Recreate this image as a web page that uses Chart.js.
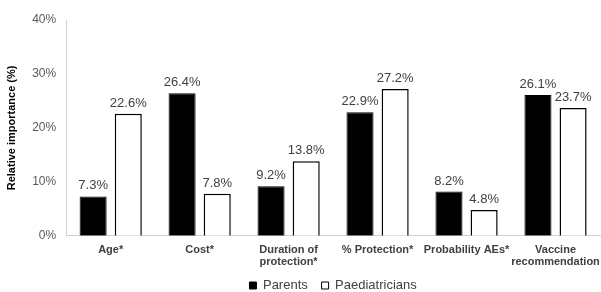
<!DOCTYPE html>
<html><head><meta charset="utf-8">
<script src="https://cdn.jsdelivr.net/npm/chart.js@4"></script>
<style>html,body{margin:0;padding:0;background:#fff}#wrap{width:601px;height:292px}</style>
</head><body><div id="wrap"><canvas id="c" width="601" height="292"></canvas></div>
<script>
const categories = ["Age*", "Cost*", ["Duration of", "protection*"], "% Protection*", "Probability AEs*", ["Vaccine", "recommendation"]];
const parents = [7.3, 26.4, 9.2, 22.9, 8.2, 26.1];
const paediatricians = [22.6, 7.8, 13.8, 27.2, 4.8, 23.7];
const yTicks = [0, 10, 20, 30, 40];

const labelPlugin = {
  id: 'valueLabels',
  afterDatasetsDraw(chart) {
    const ctx = chart.ctx;
    ctx.save();
    ctx.font = '13px "Liberation Sans", Arial, sans-serif';
    ctx.fillStyle = '#404040';
    ctx.textAlign = 'center';
    ctx.textBaseline = 'bottom';
    chart.data.datasets.forEach((ds, i) => {
      chart.getDatasetMeta(i).data.forEach((bar, j) => {
        ctx.fillText(ds.data[j].toFixed(1) + '%', bar.x, bar.y - 4);
      });
    });
    ctx.restore();
  }
};

new Chart(document.getElementById('c'), {
  type: 'bar',
  data: {
    labels: categories,
    datasets: [
      { label: 'Parents', data: parents, backgroundColor: '#000', borderColor: '#000', borderWidth: 1 },
      { label: 'Paediatricians', data: paediatricians, backgroundColor: '#fff', borderColor: '#000', borderWidth: 1.5 }
    ]
  },
  options: {
    responsive: false,
    animation: false,
    devicePixelRatio: 1,
    layout: { padding: { top: 20, right: 1, left: 1, bottom: -10 } },
    datasets: { bar: { categoryPercentage: 0.79, barPercentage: 0.77 } },
    plugins: {
      legend: {
        position: 'bottom',
        fullSize: false,
        labels: {
          boxWidth: 7, boxHeight: 7, padding: 3,
          color: '#404040',
          font: { family: '"Liberation Sans", Arial, sans-serif', size: 13 },
          generateLabels(chart) {
            return chart.data.datasets.map((ds, i) => ({
              text: i === 0 ? ds.label + '\u00a0\u00a0\u00a0' : ds.label,
              fillStyle: ds.backgroundColor, strokeStyle: '#000',
              lineWidth: 1, datasetIndex: i, fontColor: '#404040'
            }));
          }
        }
      },
      tooltip: { enabled: false }
    },
    scales: {
      x: {
        grid: { display: false, drawTicks: false },
        border: { color: '#d0d0d0', width: 1 },
        afterFit(scale) { scale.paddingLeft = 0; scale.paddingRight = 0; },
        ticks: {
          color: '#404040', padding: 8,
          font: { family: '"Liberation Sans", Arial, sans-serif', size: 11, weight: 'bold', lineHeight: 1.1 },
          maxRotation: 0, autoSkip: false
        }
      },
      y: {
        min: 0, max: 40,
        afterBuildTicks(scale) { scale.ticks = yTicks.map(v => ({ value: v })); },
        grid: { display: false, drawTicks: true, tickLength: 4, color: '#d0d0d0' },
        border: { color: '#d0d0d0', width: 1 },
        title: {
          display: true, text: 'Relative importance (%)', color: '#000',
          font: { family: '"Liberation Sans", Arial, sans-serif', size: 11, weight: 'bold' },
          padding: { bottom: 8 }
        },
        ticks: {
          color: '#595959', padding: 6,
          font: { family: '"Liberation Sans", Arial, sans-serif', size: 12 },
          callback: v => v + '%'
        }
      }
    }
  },
  plugins: [labelPlugin]
});
</script></body></html>
